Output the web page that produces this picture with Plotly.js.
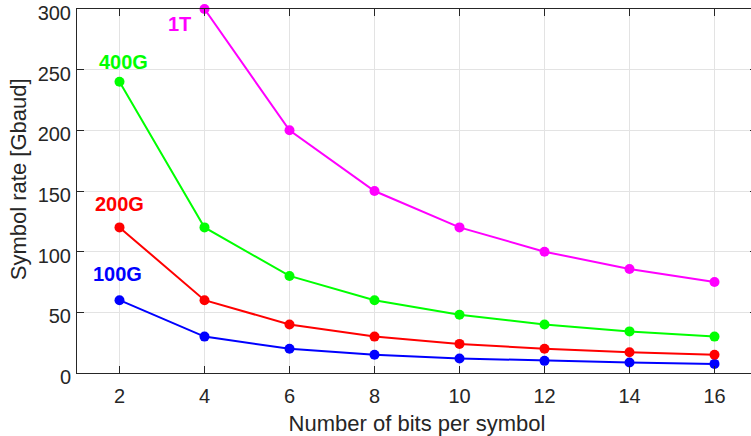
<!DOCTYPE html>
<html>
<head>
<meta charset="utf-8">
<script src="https://cdn.plot.ly/plotly-3.0.1.min.js"></script>
<style>
  html, body { margin: 0; padding: 0; overflow: hidden; background: #fff; }
  #chart { width: 761px; height: 436px; }
</style>
</head>
<body>
<div id="chart"></div>
<script>
// Bits per symbol on the horizontal axis
const bitsPerSymbol = [2, 4, 6, 8, 10, 12, 14, 16];

// Symbol rate in Gbaud for each line rate
const rate100G = [60, 30, 20, 15, 12, 10, 8.6, 7.5];
const rate200G = [120, 60, 40, 30, 24, 20, 17.1, 15];
const rate400G = [240, 120, 80, 60, 48, 40, 34.3, 30];
const bits1T = [4, 6, 8, 10, 12, 14, 16];
const rate1T = [300, 200, 150, 120, 100, 85.7, 75];

const seriesNames = ['100G', '200G', '400G', '1T'];
const seriesColors = ['#0000ff', '#ff0000', '#00ff00', '#ff00ff'];

// Label anchor points for each series name
const labelX = [1.96, 2.0, 2.09, 3.4];
const labelY = [82, 139, 256, 288];

const xTicks = [2, 4, 6, 8, 10, 12, 14, 16];
const yTicks = [0, 50, 100, 150, 200, 250, 300];

const xTitle = 'Number of bits per symbol';
const yTitle = 'Symbol rate [Gbaud]';

const FONT = 'Liberation Sans, Arial, sans-serif';

function line(x, y, color, name) {
  return {
    x: x, y: y, name: name, type: 'scatter', mode: 'lines+markers',
    line: { color: color, width: 2 },
    marker: { color: color, size: 10 },
    cliponaxis: false,
    hoverinfo: 'x+y+name'
  };
}

const traces = [
  line(bitsPerSymbol, rate100G, seriesColors[0], seriesNames[0]),
  line(bitsPerSymbol, rate200G, seriesColors[1], seriesNames[1]),
  line(bitsPerSymbol, rate400G, seriesColors[2], seriesNames[2]),
  line(bits1T, rate1T, seriesColors[3], seriesNames[3])
];

const annotations = seriesNames.map((n, i) => ({
  x: labelX[i], y: labelY[i], xref: 'x', yref: 'y',
  text: '<b>' + n + '</b>', showarrow: false,
  font: { family: FONT, size: 20, color: seriesColors[i] }
}));

// Vertical axis caption, placed a little above the middle of the axis
annotations.push({
  x: -0.085, y: 0.533, xref: 'paper', yref: 'paper',
  xanchor: 'center', yanchor: 'middle', textangle: -90,
  text: yTitle, showarrow: false,
  font: { family: FONT, size: 22, color: '#262626' }
});

const axisCommon = {
  showline: true, mirror: 'ticks', linecolor: '#262626', linewidth: 1,
  ticks: 'inside', ticklen: 7, tickcolor: '#262626',
  showgrid: true, gridcolor: '#e3e3e3', gridwidth: 1,
  zeroline: false,
  tickfont: { family: FONT, size: 20, color: '#262626' }
};

const layout = {
  width: 761, height: 436,
  margin: { l: 77, r: 4, t: 9, b: 63 },
  paper_bgcolor: '#ffffff', plot_bgcolor: '#ffffff',
  showlegend: false,
  xaxis: Object.assign({}, axisCommon, {
    range: [1, 17], tickvals: xTicks, ticklabelstandoff: 5,
    title: { text: xTitle, standoff: 10,
      font: { family: FONT, size: 22, color: '#262626' } }
  }),
  yaxis: Object.assign({}, axisCommon, {
    range: [0, 300], tickvals: yTicks, ticktext: yTicks.map(String),
    ticklabelstandoff: 1, ticklabelshift: 4, ticklabeloverflow: 'allow'
  }),
  annotations: annotations
};

Plotly.newPlot('chart', traces, layout, { staticPlot: true, displayModeBar: false });
</script>
</body>
</html>
